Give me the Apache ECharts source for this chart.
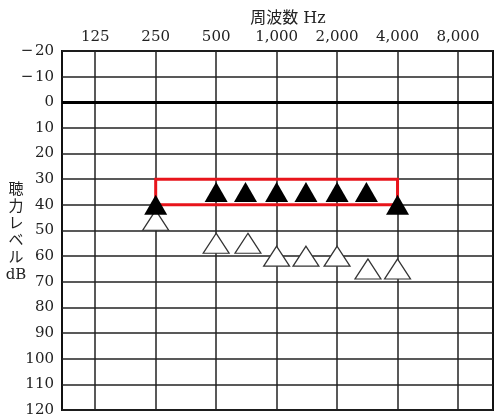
<!DOCTYPE html>
<html>
<head>
<meta charset="utf-8">
<script src="https://cdn.jsdelivr.net/npm/echarts@6/dist/echarts.min.js"></script>
<style>
  html, body { margin: 0; padding: 0; background: #fff; }
  #main { width: 500px; height: 420px; }
</style>
</head>
<body>
<div id="main"></div>
<script>
// 周波数 (Hz) の目盛
var freqTicks = [125, 250, 500, 1000, 2000, 4000, 8000];
var dbTicksMin = -20, dbTicksMax = 120, dbStep = 10;

// 測定点の周波数（図の位置から読んだ値）
var filledHz = [250, 500, 700, 1000, 1400, 2000, 2800, 4000];
var openHz = [250, 500, 720, 1000, 1400, 2000, 2850, 4000];
// 黒三角と白三角の聴力レベル (dB)
var filledDb = [40, 35, 35, 35, 35, 35, 35, 40];
var openDb = [46, 55, 55, 60, 60, 60, 65, 65];

// 赤枠の範囲
var boxHz = [250, 4000];
var boxDb = [30, 40];

var font = '"DejaVu Serif", "Noto Sans CJK JP", serif';

function pairs(xs, ys) {
  return xs.map(function (x, i) { return [x, ys[i]]; });
}

var myChart = echarts.init(document.getElementById('main'));
myChart.setOption({
  animation: false,
  title: {
    text: '周波数 Hz',
    left: 283,
    top: 6,
    textAlign: 'center',
    textStyle: { fontFamily: font, fontSize: 16, fontWeight: 'normal', color: '#222' }
  },
  // 縦軸の名前（縦書き）
  graphic: [{
    type: 'text',
    x: 16,
    y: 233,
    style: {
      text: '聴\n力\nレ\nベ\nル\ndB',
      fontFamily: font,
      fontSize: 15,
      lineHeight: 17,
      fill: '#222',
      align: 'center',
      verticalAlign: 'middle'
    }
  }],
  grid: {
    left: 62, right: 7, top: 51, bottom: 10,
    outerBoundsMode: 'none',
    show: true, borderColor: '#111', borderWidth: 2
  },
  xAxis: {
    type: 'log',
    logBase: 2,
    position: 'top',
    min: 85.4,
    max: 11951,
    axisLine: { show: false },
    axisTick: { show: false, customValues: freqTicks },
    axisLabel: {
      customValues: freqTicks,
      margin: 6,
      fontFamily: font, fontSize: 15, color: '#222',
      formatter: function (v) { return Number(v).toLocaleString('en-US'); }
    },
    splitLine: { show: true, lineStyle: { color: '#222', width: 1.5 } }
  },
  yAxis: {
    type: 'value',
    inverse: true,
    min: dbTicksMin,
    max: dbTicksMax,
    interval: dbStep,
    axisLine: { show: false },
    axisTick: { show: false },
    axisLabel: {
      margin: 8,
      fontFamily: font, fontSize: 15, color: '#222',
      formatter: function (v) { return v < 0 ? '\u2212\u200a' + Math.abs(v) : String(v); }
    },
    splitLine: { show: true, lineStyle: { color: '#222', width: 1.5 } }
  },
  series: [
    {
      name: 'open',
      type: 'scatter',
      symbol: 'triangle',
      symbolSize: [26, 20],
      itemStyle: { color: '#fff', borderColor: '#333', borderWidth: 1.2, opacity: 1 },
      data: pairs(openHz, openDb),
      markLine: {
        silent: true,
        symbol: 'none',
        label: { show: false },
        lineStyle: { color: '#000', width: 3, type: 'solid' },
        data: [{ yAxis: 0 }]
      },
      z: 3
    },
    {
      name: 'filled',
      type: 'scatter',
      symbol: 'triangle',
      symbolSize: [23, 20],
      itemStyle: { color: '#000', opacity: 1 },
      data: pairs(filledHz, filledDb),
      z: 4
    },
    {
      name: 'box',
      type: 'scatter',
      data: [],
      z: 6,
      markArea: {
        silent: true,
        itemStyle: { color: 'rgba(0,0,0,0)', borderColor: '#e8141b', borderWidth: 3 },
        data: [[{ xAxis: boxHz[0], yAxis: boxDb[0] }, { xAxis: boxHz[1], yAxis: boxDb[1] }]]
      }
    }
  ]
});
</script>
</body>
</html>
